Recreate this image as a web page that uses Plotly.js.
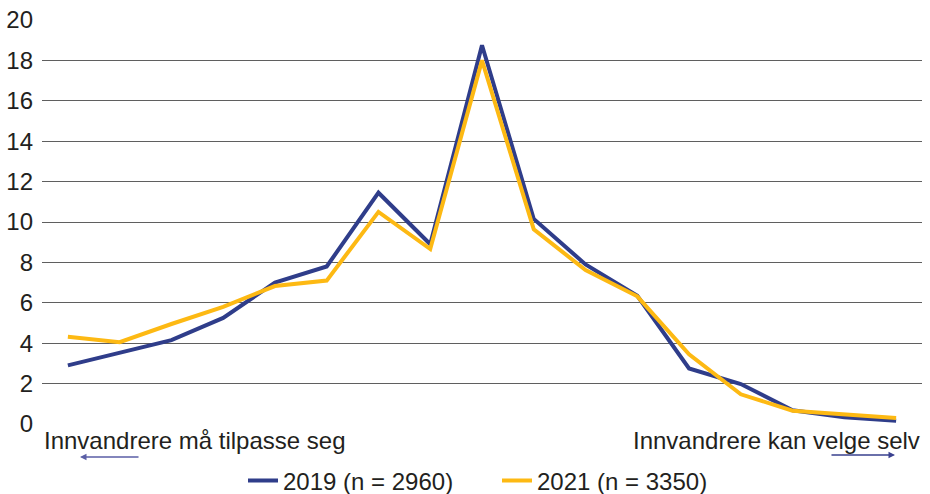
<!DOCTYPE html>
<html>
<head>
<meta charset="utf-8">
<script src="https://cdn.plot.ly/plotly-3.0.1.min.js"></script>
<style>html,body{margin:0;padding:0;background:#fff;}#chart{width:930px;height:494px;}</style>
</head>
<body>
<div id="chart"></div>
<script>
const scalePoints = ['1','2','3','4','5','6','7','8','9','10','11','12','13','14','15','16','17'];
const values2019 = [2.9, 3.5, 4.15, 5.25, 7.0, 7.8, 11.45, 8.9, 18.75, 10.15, 7.9, 6.35, 2.75, 1.98, 0.68, 0.33, 0.16];
const values2021 = [4.32, 4.05, 4.95, 5.8, 6.83, 7.1, 10.5, 8.66, 18.0, 9.64, 7.62, 6.32, 3.45, 1.47, 0.66, 0.5, 0.3];
const seriesNames = ['2019 (n = 2960)', '2021 (n = 3350)'];
const yTicks = [0, 2, 4, 6, 8, 10, 12, 14, 16, 18, 20];
const leftLabel = 'Innvandrere må tilpasse seg';
const rightLabel = 'Innvandrere kan velge selv';

const FONT = 'Liberation Sans, Arial, sans-serif';
const traces = [
  {x: scalePoints, y: values2019, name: seriesNames[0], type: 'scatter', mode: 'lines',
   line: {color: '#2f3d8a', width: 4}},
  {x: scalePoints, y: values2021, name: seriesNames[1], type: 'scatter', mode: 'lines',
   line: {color: '#fdb913', width: 4}}
];

const layout = {
  width: 930, height: 494,
  margin: {l: 42, r: 8, t: 20, b: 70},
  paper_bgcolor: '#fff', plot_bgcolor: '#fff',
  font: {family: FONT, size: 24, color: '#231f20'},
  showlegend: true,
  legend: {orientation: 'h', xref: 'container', yref: 'container',
           x: 243 / 930, xanchor: 'left', y: 1 - 481 / 494, yanchor: 'middle',
           font: {family: FONT, size: 24, color: '#231f20'},
           entrywidth: 209, entrywidthmode: 'pixels', traceorder: 'normal'},
  xaxis: {type: 'category', range: [-0.5, 16.5], showticklabels: false, ticks: '', showgrid: false,
          zeroline: false, showline: false, fixedrange: true},
  yaxis: {range: [0, 20], tickvals: yTicks, showgrid: true, gridcolor: '#5f5f5f', gridwidth: 1,
          zeroline: false, showline: false, ticks: '', ticklabelstandoff: 8,
          tickfont: {family: FONT, size: 24, color: '#231f20'}},
  annotations: [
    {xref: 'paper', yref: 'paper', x: 0, y: -0.04, xanchor: 'left', yanchor: 'middle',
     text: leftLabel, showarrow: false, font: {family: FONT, size: 24, color: '#231f20'}},
    {xref: 'paper', yref: 'paper', x: 1, y: -0.04, xanchor: 'right', yanchor: 'middle',
     text: rightLabel, showarrow: false, font: {family: FONT, size: 24, color: '#231f20'}},
    {xref: 'paper', yref: 'paper', x: 0.0432, y: -0.0817, ax: 60, ay: 0, text: '',
     showarrow: true, arrowhead: 2, arrowsize: 1, arrowwidth: 1.3, arrowcolor: '#5b5fa6'},
    {xref: 'paper', yref: 'paper', x: 0.9693, y: -0.0767, ax: -65, ay: 0, text: '',
     showarrow: true, arrowhead: 2, arrowsize: 1, arrowwidth: 1.3, arrowcolor: '#3a418f'}
  ]
};

Plotly.newPlot('chart', traces, layout, {displayModeBar: false, staticPlot: true});
</script>
</body>
</html>
